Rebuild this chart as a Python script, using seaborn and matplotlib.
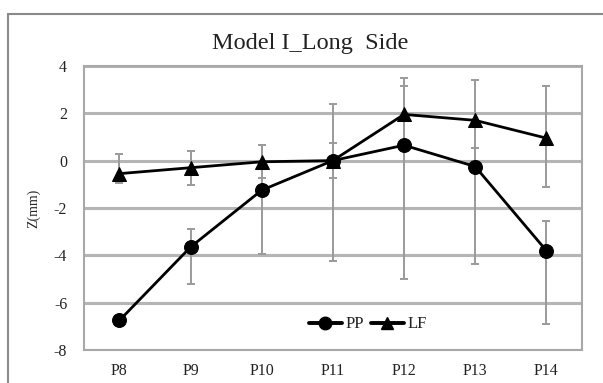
import matplotlib
matplotlib.use("Agg")
import matplotlib.pyplot as plt
import seaborn as sns
import pandas as pd
import numpy as np
from matplotlib.patches import Rectangle
from matplotlib.lines import Line2D

categories = ["P8", "P9", "P10", "P11", "P12", "P13", "P14"]
pp_values = [-6.75, -3.65, -1.25, 0.0, 0.65, -0.25, -3.8]
lf_values = [-0.55, -0.3, -0.05, 0.0, 1.95, 1.7, 0.95]
pp_err_low = [0.1, 1.55, 2.7, 4.25, 5.65, 4.1, 3.1]
pp_err_high = [0.1, 0.75, 1.9, 2.4, 2.5, 0.8, 1.25]
lf_err_low = [0.4, 0.72, 0.7, 0.75, 1.55, 1.7, 2.05]
lf_err_high = [0.82, 0.7, 0.7, 0.75, 1.55, 1.7, 2.2]
y_ticks = [4, 2, 0, -2, -4, -6, -8]

sns.set_theme(style="white")
plt.rcParams["font.family"] = ["Liberation Serif", "DejaVu Serif"]

df = pd.DataFrame({
    "pos": list(range(len(categories))) * 2,
    "Z": pp_values + lf_values,
    "series": ["PP"] * len(categories) + ["LF"] * len(categories),
})

fig = plt.figure(figsize=(6.03, 3.83), dpi=100)
ax = fig.add_axes([0.139, 0.086, 0.826, 0.742])

x = np.arange(len(categories))
errcol = "#9a9a9a"
ax.errorbar(x, pp_values, yerr=[pp_err_low, pp_err_high], fmt="none",
            ecolor=errcol, elinewidth=1.4, capsize=3, capthick=1.4, zorder=2)
ax.errorbar(x, lf_values, yerr=[lf_err_low, lf_err_high], fmt="none",
            ecolor=errcol, elinewidth=1.4, capsize=3, capthick=1.4, zorder=2)

sns.lineplot(data=df, x="pos", y="Z", hue="series", style="series",
             markers={"PP": "o", "LF": "^"}, dashes=False,
             palette={"PP": "black", "LF": "black"},
             markersize=10, linewidth=2, markeredgecolor="black",
             legend=False, ax=ax, zorder=3)

ax.set_xlim(-0.5, len(categories) - 0.5)
ax.set_ylim(-8, 4)
ax.set_yticks(y_ticks)
ax.set_yticklabels([str(t) for t in y_ticks])
ax.set_xticks(x)
ax.set_xticklabels(categories)
ax.tick_params(axis="both", labelsize=11.5, colors="#222222", length=0, pad=12)
ax.tick_params(axis="x", pad=9)
ax.set_xlabel("")
ax.set_ylabel("Z(mm)", fontsize=10, labelpad=10)

ax.grid(axis="y", color="#b5b5b5", linewidth=2.2, zorder=0)
ax.set_axisbelow(True)
for s in ax.spines.values():
    s.set_color("#a8a8a8")
    s.set_linewidth(1.5)

fig.text(310 / 603, 1 - 43 / 383, "Model I_Long  Side", fontsize=17.5,
         color="#222222", ha="center", va="center")

handles = [
    Line2D([], [], color="black", marker="o", markersize=9, linewidth=2.8),
    Line2D([], [], color="black", marker="^", markersize=8, linewidth=2.8),
]
ax.legend(handles, ["PP", "LF"], loc="center", bbox_to_anchor=(0.57, 0.09),
          ncol=2, frameon=False, fontsize=12, handlelength=2.0,
          columnspacing=0.4, handletextpad=0.2, labelcolor="#222222")

fig.add_artist(Rectangle((8 / 603, -0.1), 1.2, 1 - 14 / 383 + 0.1,
                         transform=fig.transFigure, fill=False,
                         edgecolor="#8a8a8a", linewidth=1.5))

fig.savefig("out.png", dpi=100)
